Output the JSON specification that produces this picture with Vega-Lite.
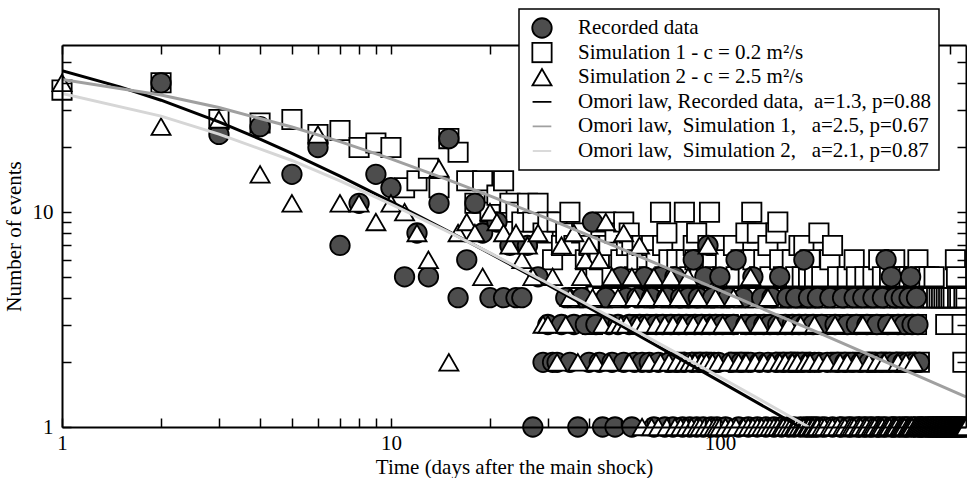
{
"$schema": "https://vega.github.io/schema/vega-lite/v6.json",
"width": 904, "height": 382,
"autosize": {"type": "none"},
"padding": {"left": 62, "top": 45, "right": 1, "bottom": 51},
"background": "white",
"config": {
  "view": {"stroke": null},
  "axis": {"labelFont": "Liberation Serif", "titleFont": "Liberation Serif", "labelFontSize": 21, "titleFontSize": 21, "labelColor": "black", "titleColor": "black", "titleFontWeight": "normal", "domainColor": "black", "domainWidth": 2, "ticks": true, "tickColor": "black", "tickOpacity": 1, "tickWidth": 1.5, "grid": false, "labelFlush": false, "labelOverlap": false, "zindex": 1},
  "legend": {"labelFont": "Liberation Serif", "labelFontSize": 21, "labelColor": "black", "strokeColor": "black", "strokeWidth": 1.5, "fillColor": "white", "padding": 8, "rowPadding": 2.6, "clipHeight": 22, "symbolOffset": 4, "labelOffset": 25, "labelLimit": 0, "cornerRadius": 0, "zindex": 2}
},
"datasets": {
"pts": [
{"s":"S1","t":1,"n":37},{"s":"S1","t":2,"n":40},{"s":"S1","t":3,"n":27},{"s":"S1","t":4,"n":26},{"s":"S1","t":5,"n":27},{"s":"S1","t":6,"n":23},{"s":"S1","t":7,"n":24},{"s":"S1","t":8,"n":20},{"s":"S1","t":9,"n":21},{"s":"S1","t":10,"n":20},
{"s":"S1","t":11,"n":13},{"s":"S1","t":12,"n":14},{"s":"S1","t":13,"n":16},{"s":"S1","t":14,"n":13},{"s":"S1","t":15,"n":22},{"s":"S1","t":16,"n":19},{"s":"S1","t":17,"n":14},{"s":"S1","t":18,"n":11},{"s":"S1","t":19,"n":14},{"s":"S1","t":20,"n":10},
{"s":"S1","t":21,"n":12},{"s":"S1","t":22,"n":14},{"s":"S1","t":23,"n":11},{"s":"S1","t":24,"n":10},{"s":"S1","t":25,"n":9},{"s":"S1","t":26,"n":11},{"s":"S1","t":27,"n":9},{"s":"S1","t":28,"n":11},{"s":"S1","t":29,"n":8},{"s":"S1","t":30,"n":9},
{"s":"S1","t":31,"n":6},{"s":"S1","t":32,"n":9},{"s":"S1","t":33,"n":7},{"s":"S1","t":34,"n":8},{"s":"S1","t":35,"n":10},{"s":"S1","t":36,"n":7},{"s":"S1","t":37,"n":4},{"s":"S1","t":38,"n":8},{"s":"S1","t":39,"n":6},{"s":"S1","t":40,"n":7},
{"s":"S1","t":41,"n":3},{"s":"S1","t":42,"n":5},{"s":"S1","t":43,"n":6},{"s":"S1","t":44,"n":4},{"s":"S1","t":45,"n":9},{"s":"S1","t":46,"n":7},{"s":"S1","t":47,"n":5},{"s":"S1","t":48,"n":8},{"s":"S1","t":49,"n":4},{"s":"S1","t":50,"n":6},
{"s":"S1","t":51,"n":9},{"s":"S1","t":52,"n":7},{"s":"S1","t":53,"n":8},{"s":"S1","t":54,"n":7},{"s":"S1","t":55,"n":5},{"s":"S1","t":56,"n":6},{"s":"S1","t":57,"n":3},{"s":"S1","t":58,"n":7},{"s":"S1","t":59,"n":4},{"s":"S1","t":60,"n":6},
{"s":"S1","t":61,"n":5},{"s":"S1","t":62,"n":7},{"s":"S1","t":63,"n":4},{"s":"S1","t":64,"n":6},{"s":"S1","t":65,"n":3},{"s":"S1","t":66,"n":10},{"s":"S1","t":67,"n":7},{"s":"S1","t":68,"n":5},{"s":"S1","t":69,"n":8},{"s":"S1","t":70,"n":6},
{"s":"S1","t":71,"n":4},{"s":"S1","t":72,"n":5},{"s":"S1","t":73,"n":2},{"s":"S1","t":74,"n":6},{"s":"S1","t":75,"n":4},{"s":"S1","t":76,"n":5},{"s":"S1","t":77,"n":3},{"s":"S1","t":78,"n":10},{"s":"S1","t":79,"n":6},{"s":"S1","t":80,"n":4},
{"s":"S1","t":81,"n":5},{"s":"S1","t":82,"n":3},{"s":"S1","t":83,"n":7},{"s":"S1","t":84,"n":6},{"s":"S1","t":85,"n":8},{"s":"S1","t":86,"n":4},{"s":"S1","t":87,"n":5},{"s":"S1","t":88,"n":2},{"s":"S1","t":89,"n":6},{"s":"S1","t":90,"n":4},
{"s":"S1","t":91,"n":5},{"s":"S1","t":92,"n":7},{"s":"S1","t":93,"n":10},{"s":"S1","t":94,"n":3},{"s":"S1","t":95,"n":6},{"s":"S1","t":96,"n":4},{"s":"S1","t":97,"n":5},{"s":"S1","t":98,"n":7},{"s":"S1","t":99,"n":3},{"s":"S1","t":100,"n":4},
{"s":"S1","t":102,"n":5},{"s":"S1","t":104,"n":6},{"s":"S1","t":106,"n":3},{"s":"S1","t":108,"n":4},{"s":"S1","t":110,"n":7},{"s":"S1","t":112,"n":5},{"s":"S1","t":114,"n":2},{"s":"S1","t":116,"n":6},{"s":"S1","t":118,"n":4},{"s":"S1","t":120,"n":8},
{"s":"S1","t":122,"n":5},{"s":"S1","t":124,"n":3},{"s":"S1","t":125,"n":10},{"s":"S1","t":126,"n":6},{"s":"S1","t":128,"n":4},{"s":"S1","t":130,"n":8},{"s":"S1","t":132,"n":5},{"s":"S1","t":134,"n":3},{"s":"S1","t":136,"n":6},{"s":"S1","t":138,"n":4},
{"s":"S1","t":140,"n":7},{"s":"S1","t":142,"n":5},{"s":"S1","t":144,"n":3},{"s":"S1","t":146,"n":4},{"s":"S1","t":148,"n":8},{"s":"S1","t":150,"n":9},{"s":"S1","t":152,"n":6},{"s":"S1","t":154,"n":4},{"s":"S1","t":156,"n":5},{"s":"S1","t":158,"n":2},
{"s":"S1","t":160,"n":3},{"s":"S1","t":162,"n":5},{"s":"S1","t":164,"n":4},{"s":"S1","t":166,"n":6},{"s":"S1","t":168,"n":3},{"s":"S1","t":170,"n":5},{"s":"S1","t":172,"n":4},{"s":"S1","t":174,"n":7},{"s":"S1","t":176,"n":2},{"s":"S1","t":178,"n":5},
{"s":"S1","t":180,"n":7},{"s":"S1","t":182,"n":4},{"s":"S1","t":184,"n":3},{"s":"S1","t":186,"n":5},{"s":"S1","t":188,"n":6},{"s":"S1","t":190,"n":4},{"s":"S1","t":192,"n":1},{"s":"S1","t":194,"n":5},{"s":"S1","t":196,"n":3},{"s":"S1","t":198,"n":4},
{"s":"S1","t":200,"n":8},{"s":"S1","t":204,"n":5},{"s":"S1","t":208,"n":4},{"s":"S1","t":212,"n":3},{"s":"S1","t":216,"n":6},{"s":"S1","t":220,"n":7},{"s":"S1","t":224,"n":4},{"s":"S1","t":228,"n":5},{"s":"S1","t":232,"n":2},{"s":"S1","t":236,"n":4},
{"s":"S1","t":240,"n":3},{"s":"S1","t":244,"n":5},{"s":"S1","t":248,"n":1},{"s":"S1","t":252,"n":4},{"s":"S1","t":256,"n":6},{"s":"S1","t":260,"n":5},{"s":"S1","t":264,"n":3},{"s":"S1","t":268,"n":4},{"s":"S1","t":272,"n":2},{"s":"S1","t":276,"n":5},
{"s":"S1","t":280,"n":4},{"s":"S1","t":284,"n":1},{"s":"S1","t":288,"n":3},{"s":"S1","t":292,"n":5},{"s":"S1","t":296,"n":4},{"s":"S1","t":300,"n":2},{"s":"S1","t":304,"n":6},{"s":"S1","t":308,"n":4},{"s":"S1","t":312,"n":5},{"s":"S1","t":316,"n":3},
{"s":"S1","t":320,"n":1},{"s":"S1","t":324,"n":4},{"s":"S1","t":328,"n":5},{"s":"S1","t":332,"n":2},{"s":"S1","t":336,"n":4},{"s":"S1","t":340,"n":6},{"s":"S1","t":344,"n":5},{"s":"S1","t":348,"n":3},{"s":"S1","t":352,"n":4},{"s":"S1","t":356,"n":1},
{"s":"S1","t":360,"n":5},{"s":"S1","t":364,"n":4},{"s":"S1","t":368,"n":2},{"s":"S1","t":372,"n":3},{"s":"S1","t":376,"n":5},{"s":"S1","t":380,"n":4},{"s":"S1","t":384,"n":1},{"s":"S1","t":388,"n":5},{"s":"S1","t":392,"n":4},{"s":"S1","t":396,"n":3},
{"s":"S1","t":400,"n":6},{"s":"S1","t":404,"n":2},{"s":"S1","t":408,"n":5},{"s":"S1","t":412,"n":4},{"s":"S1","t":416,"n":1},{"s":"S1","t":420,"n":5},{"s":"S1","t":424,"n":4},{"s":"S1","t":428,"n":1},{"s":"S1","t":432,"n":5},{"s":"S1","t":436,"n":4},
{"s":"S1","t":440,"n":1},{"s":"S1","t":444,"n":4},{"s":"S1","t":448,"n":5},{"s":"S1","t":452,"n":1},{"s":"S1","t":456,"n":4},{"s":"S1","t":460,"n":1},{"s":"S1","t":464,"n":4},{"s":"S1","t":468,"n":1},{"s":"S1","t":472,"n":4},{"s":"S1","t":476,"n":1},
{"s":"S1","t":480,"n":4},{"s":"S1","t":484,"n":1},{"s":"S1","t":486,"n":3},{"s":"S1","t":488,"n":4},{"s":"S1","t":492,"n":1},{"s":"S1","t":496,"n":4},{"s":"S1","t":500,"n":1},{"s":"S1","t":504,"n":4},{"s":"S1","t":508,"n":1},{"s":"S1","t":512,"n":4},
{"s":"S1","t":516,"n":1},{"s":"S1","t":520,"n":6},{"s":"S1","t":524,"n":5},{"s":"S1","t":528,"n":4},{"s":"S1","t":532,"n":1},{"s":"S1","t":536,"n":4},{"s":"S1","t":540,"n":1},{"s":"S1","t":545,"n":3},{"s":"S1","t":548,"n":2},{"s":"S1","t":552,"n":4},
{"s":"S1","t":556,"n":1},{"s":"S1","t":560,"n":4},
{"s":"R","t":2,"n":40},{"s":"R","t":3,"n":23},{"s":"R","t":4,"n":25},{"s":"R","t":5,"n":15},{"s":"R","t":6,"n":20},{"s":"R","t":7,"n":7},{"s":"R","t":8,"n":11},{"s":"R","t":9,"n":15},{"s":"R","t":10,"n":13},
{"s":"R","t":11,"n":5},{"s":"R","t":12,"n":8},{"s":"R","t":13,"n":5},{"s":"R","t":14,"n":11},{"s":"R","t":15,"n":22},{"s":"R","t":16,"n":4},{"s":"R","t":17,"n":6},{"s":"R","t":18,"n":11},{"s":"R","t":19,"n":8},{"s":"R","t":20,"n":4},
{"s":"R","t":21,"n":9},{"s":"R","t":22,"n":4},{"s":"R","t":23,"n":7},{"s":"R","t":24,"n":4},{"s":"R","t":25,"n":4},{"s":"R","t":26,"n":7},{"s":"R","t":27,"n":1},{"s":"R","t":28,"n":5},{"s":"R","t":29,"n":2},{"s":"R","t":30,"n":3},
{"s":"R","t":31,"n":2},{"s":"R","t":32,"n":2},{"s":"R","t":33,"n":3},{"s":"R","t":34,"n":4},{"s":"R","t":35,"n":2},{"s":"R","t":36,"n":3},{"s":"R","t":37,"n":1},{"s":"R","t":38,"n":4},{"s":"R","t":39,"n":3},{"s":"R","t":40,"n":2},
{"s":"R","t":41,"n":9},{"s":"R","t":42,"n":3},{"s":"R","t":43,"n":2},{"s":"R","t":44,"n":1},{"s":"R","t":45,"n":4},{"s":"R","t":46,"n":3},{"s":"R","t":47,"n":2},{"s":"R","t":48,"n":1},{"s":"R","t":49,"n":3},{"s":"R","t":50,"n":5},
{"s":"R","t":51,"n":2},{"s":"R","t":52,"n":4},{"s":"R","t":53,"n":3},{"s":"R","t":54,"n":1},{"s":"R","t":55,"n":2},{"s":"R","t":56,"n":4},{"s":"R","t":57,"n":3},{"s":"R","t":58,"n":2},{"s":"R","t":59,"n":5},{"s":"R","t":60,"n":3},
{"s":"R","t":61,"n":2},{"s":"R","t":62,"n":4},{"s":"R","t":63,"n":1},{"s":"R","t":64,"n":3},{"s":"R","t":65,"n":2},{"s":"R","t":66,"n":5},{"s":"R","t":67,"n":3},{"s":"R","t":68,"n":1},{"s":"R","t":69,"n":4},{"s":"R","t":70,"n":2},
{"s":"R","t":71,"n":3},{"s":"R","t":72,"n":1},{"s":"R","t":73,"n":5},{"s":"R","t":74,"n":2},{"s":"R","t":75,"n":3},{"s":"R","t":76,"n":4},{"s":"R","t":77,"n":1},{"s":"R","t":78,"n":2},{"s":"R","t":79,"n":3},{"s":"R","t":80,"n":4},
{"s":"R","t":81,"n":1},{"s":"R","t":82,"n":2},{"s":"R","t":83,"n":6},{"s":"R","t":84,"n":3},{"s":"R","t":85,"n":1},{"s":"R","t":86,"n":4},{"s":"R","t":87,"n":2},{"s":"R","t":88,"n":3},{"s":"R","t":89,"n":1},{"s":"R","t":90,"n":5},
{"s":"R","t":91,"n":2},{"s":"R","t":92,"n":7},{"s":"R","t":93,"n":3},{"s":"R","t":94,"n":1},{"s":"R","t":95,"n":4},{"s":"R","t":96,"n":2},{"s":"R","t":97,"n":3},{"s":"R","t":98,"n":1},{"s":"R","t":99,"n":2},{"s":"R","t":100,"n":5},
{"s":"R","t":102,"n":3},{"s":"R","t":104,"n":1},{"s":"R","t":106,"n":4},{"s":"R","t":108,"n":2},{"s":"R","t":110,"n":3},{"s":"R","t":112,"n":6},{"s":"R","t":114,"n":1},{"s":"R","t":116,"n":2},{"s":"R","t":118,"n":4},{"s":"R","t":120,"n":3},
{"s":"R","t":122,"n":1},{"s":"R","t":124,"n":2},{"s":"R","t":126,"n":5},{"s":"R","t":128,"n":3},{"s":"R","t":130,"n":1},{"s":"R","t":132,"n":2},{"s":"R","t":134,"n":4},{"s":"R","t":136,"n":3},{"s":"R","t":138,"n":1},{"s":"R","t":140,"n":2},
{"s":"R","t":142,"n":3},{"s":"R","t":144,"n":4},{"s":"R","t":146,"n":1},{"s":"R","t":148,"n":2},{"s":"R","t":150,"n":3},{"s":"R","t":152,"n":5},{"s":"R","t":154,"n":1},{"s":"R","t":156,"n":2},{"s":"R","t":158,"n":3},{"s":"R","t":160,"n":4},
{"s":"R","t":162,"n":1},{"s":"R","t":164,"n":2},{"s":"R","t":166,"n":3},{"s":"R","t":168,"n":1},{"s":"R","t":170,"n":4},{"s":"R","t":172,"n":2},{"s":"R","t":174,"n":3},{"s":"R","t":176,"n":1},{"s":"R","t":178,"n":2},{"s":"R","t":180,"n":6},
{"s":"R","t":182,"n":3},{"s":"R","t":184,"n":1},{"s":"R","t":186,"n":4},{"s":"R","t":188,"n":2},{"s":"R","t":190,"n":1},{"s":"R","t":192,"n":3},{"s":"R","t":194,"n":2},{"s":"R","t":196,"n":1},{"s":"R","t":198,"n":4},{"s":"R","t":200,"n":2},
{"s":"R","t":204,"n":3},{"s":"R","t":208,"n":1},{"s":"R","t":212,"n":2},{"s":"R","t":216,"n":4},{"s":"R","t":220,"n":1},{"s":"R","t":224,"n":3},{"s":"R","t":228,"n":2},{"s":"R","t":232,"n":1},{"s":"R","t":236,"n":4},{"s":"R","t":240,"n":2},
{"s":"R","t":244,"n":3},{"s":"R","t":248,"n":1},{"s":"R","t":252,"n":2},{"s":"R","t":256,"n":4},{"s":"R","t":260,"n":3},{"s":"R","t":264,"n":1},{"s":"R","t":268,"n":2},{"s":"R","t":272,"n":4},{"s":"R","t":276,"n":1},{"s":"R","t":280,"n":3},
{"s":"R","t":284,"n":2},{"s":"R","t":288,"n":1},{"s":"R","t":292,"n":4},{"s":"R","t":296,"n":2},{"s":"R","t":300,"n":3},{"s":"R","t":304,"n":1},{"s":"R","t":308,"n":2},{"s":"R","t":312,"n":4},{"s":"R","t":316,"n":1},{"s":"R","t":320,"n":6},
{"s":"R","t":324,"n":3},{"s":"R","t":328,"n":2},{"s":"R","t":332,"n":5},{"s":"R","t":336,"n":1},{"s":"R","t":340,"n":4},{"s":"R","t":344,"n":2},{"s":"R","t":348,"n":3},{"s":"R","t":352,"n":1},{"s":"R","t":356,"n":4},{"s":"R","t":360,"n":2},
{"s":"R","t":364,"n":3},{"s":"R","t":368,"n":1},{"s":"R","t":372,"n":2},{"s":"R","t":376,"n":4},{"s":"R","t":380,"n":5},{"s":"R","t":384,"n":3},{"s":"R","t":388,"n":1},{"s":"R","t":392,"n":2},{"s":"R","t":396,"n":4},{"s":"R","t":400,"n":3},
{"s":"R","t":404,"n":2},{"s":"R","t":408,"n":1},
{"s":"S2","t":1,"n":40},{"s":"S2","t":2,"n":25},{"s":"S2","t":3,"n":27},{"s":"S2","t":4,"n":15},{"s":"S2","t":5,"n":11},{"s":"S2","t":6,"n":23},{"s":"S2","t":7,"n":11},{"s":"S2","t":8,"n":11},{"s":"S2","t":9,"n":9},{"s":"S2","t":10,"n":11},
{"s":"S2","t":11,"n":10},{"s":"S2","t":12,"n":8},{"s":"S2","t":13,"n":6},{"s":"S2","t":14,"n":16},{"s":"S2","t":15,"n":2},{"s":"S2","t":16,"n":8},{"s":"S2","t":17,"n":9},{"s":"S2","t":18,"n":8},{"s":"S2","t":19,"n":5},{"s":"S2","t":20,"n":10},
{"s":"S2","t":21,"n":9},{"s":"S2","t":22,"n":8},{"s":"S2","t":23,"n":7},{"s":"S2","t":24,"n":8},{"s":"S2","t":25,"n":6},{"s":"S2","t":26,"n":7},{"s":"S2","t":27,"n":5},{"s":"S2","t":28,"n":8},{"s":"S2","t":29,"n":3},{"s":"S2","t":30,"n":3},
{"s":"S2","t":31,"n":5},{"s":"S2","t":32,"n":2},{"s":"S2","t":33,"n":7},{"s":"S2","t":34,"n":3},{"s":"S2","t":35,"n":4},{"s":"S2","t":36,"n":8},{"s":"S2","t":37,"n":2},{"s":"S2","t":38,"n":5},{"s":"S2","t":39,"n":6},{"s":"S2","t":40,"n":7},
{"s":"S2","t":41,"n":4},{"s":"S2","t":42,"n":2},{"s":"S2","t":43,"n":6},{"s":"S2","t":44,"n":3},{"s":"S2","t":45,"n":9},{"s":"S2","t":46,"n":2},{"s":"S2","t":47,"n":5},{"s":"S2","t":48,"n":3},{"s":"S2","t":49,"n":4},{"s":"S2","t":50,"n":3},
{"s":"S2","t":51,"n":8},{"s":"S2","t":52,"n":3},{"s":"S2","t":53,"n":2},{"s":"S2","t":54,"n":5},{"s":"S2","t":55,"n":4},{"s":"S2","t":56,"n":3},{"s":"S2","t":57,"n":7},{"s":"S2","t":58,"n":1},{"s":"S2","t":59,"n":3},{"s":"S2","t":60,"n":4},
{"s":"S2","t":61,"n":2},{"s":"S2","t":62,"n":1},{"s":"S2","t":63,"n":5},{"s":"S2","t":64,"n":3},{"s":"S2","t":65,"n":1},{"s":"S2","t":66,"n":2},{"s":"S2","t":67,"n":4},{"s":"S2","t":68,"n":3},{"s":"S2","t":69,"n":1},{"s":"S2","t":70,"n":2},
{"s":"S2","t":71,"n":5},{"s":"S2","t":72,"n":3},{"s":"S2","t":73,"n":1},{"s":"S2","t":74,"n":2},{"s":"S2","t":75,"n":4},{"s":"S2","t":76,"n":1},{"s":"S2","t":77,"n":3},{"s":"S2","t":78,"n":2},{"s":"S2","t":79,"n":1},{"s":"S2","t":80,"n":5},
{"s":"S2","t":81,"n":2},{"s":"S2","t":82,"n":1},{"s":"S2","t":83,"n":3},{"s":"S2","t":84,"n":2},{"s":"S2","t":85,"n":1},{"s":"S2","t":86,"n":4},{"s":"S2","t":87,"n":1},{"s":"S2","t":88,"n":2},{"s":"S2","t":89,"n":3},{"s":"S2","t":90,"n":1},
{"s":"S2","t":91,"n":2},{"s":"S2","t":92,"n":7},{"s":"S2","t":93,"n":1},{"s":"S2","t":94,"n":3},{"s":"S2","t":95,"n":2},{"s":"S2","t":96,"n":1},{"s":"S2","t":97,"n":4},{"s":"S2","t":98,"n":1},{"s":"S2","t":99,"n":2},{"s":"S2","t":100,"n":1},
{"s":"S2","t":102,"n":3},{"s":"S2","t":104,"n":1},{"s":"S2","t":106,"n":2},{"s":"S2","t":108,"n":1},{"s":"S2","t":110,"n":4},{"s":"S2","t":112,"n":1},{"s":"S2","t":114,"n":2},{"s":"S2","t":116,"n":3},{"s":"S2","t":118,"n":1},{"s":"S2","t":120,"n":2},
{"s":"S2","t":122,"n":1},{"s":"S2","t":124,"n":5},{"s":"S2","t":126,"n":1},{"s":"S2","t":128,"n":2},{"s":"S2","t":130,"n":1},{"s":"S2","t":132,"n":3},{"s":"S2","t":134,"n":1},{"s":"S2","t":136,"n":2},{"s":"S2","t":138,"n":1},{"s":"S2","t":140,"n":4},
{"s":"S2","t":142,"n":1},{"s":"S2","t":144,"n":2},{"s":"S2","t":146,"n":1},{"s":"S2","t":148,"n":3},{"s":"S2","t":150,"n":1},{"s":"S2","t":152,"n":2},{"s":"S2","t":154,"n":1},{"s":"S2","t":156,"n":1},{"s":"S2","t":158,"n":2},{"s":"S2","t":160,"n":1},
{"s":"S2","t":162,"n":3},{"s":"S2","t":164,"n":1},{"s":"S2","t":166,"n":2},{"s":"S2","t":168,"n":1},{"s":"S2","t":170,"n":1},{"s":"S2","t":172,"n":2},{"s":"S2","t":174,"n":1},{"s":"S2","t":176,"n":3},{"s":"S2","t":178,"n":1},{"s":"S2","t":180,"n":1},
{"s":"S2","t":182,"n":2},{"s":"S2","t":184,"n":1},{"s":"S2","t":186,"n":1},{"s":"S2","t":188,"n":2},{"s":"S2","t":190,"n":1},{"s":"S2","t":192,"n":1},{"s":"S2","t":194,"n":3},{"s":"S2","t":196,"n":1},{"s":"S2","t":198,"n":1},{"s":"S2","t":200,"n":2},
{"s":"S2","t":204,"n":1},{"s":"S2","t":208,"n":1},{"s":"S2","t":212,"n":2},{"s":"S2","t":216,"n":1},{"s":"S2","t":220,"n":1},{"s":"S2","t":224,"n":3},{"s":"S2","t":228,"n":1},{"s":"S2","t":232,"n":2},{"s":"S2","t":236,"n":1},{"s":"S2","t":240,"n":1},
{"s":"S2","t":244,"n":2},{"s":"S2","t":248,"n":1},{"s":"S2","t":252,"n":1},{"s":"S2","t":256,"n":1},{"s":"S2","t":260,"n":2},{"s":"S2","t":264,"n":1},{"s":"S2","t":268,"n":1},{"s":"S2","t":272,"n":3},{"s":"S2","t":276,"n":1},{"s":"S2","t":280,"n":1},
{"s":"S2","t":284,"n":2},{"s":"S2","t":288,"n":1},{"s":"S2","t":292,"n":1},{"s":"S2","t":296,"n":1},{"s":"S2","t":300,"n":2},{"s":"S2","t":304,"n":1},{"s":"S2","t":308,"n":1},{"s":"S2","t":312,"n":1},{"s":"S2","t":316,"n":2},{"s":"S2","t":320,"n":1},
{"s":"S2","t":324,"n":1},{"s":"S2","t":328,"n":1},{"s":"S2","t":332,"n":3},{"s":"S2","t":336,"n":1},{"s":"S2","t":340,"n":1},{"s":"S2","t":344,"n":1},{"s":"S2","t":348,"n":2},{"s":"S2","t":352,"n":1},{"s":"S2","t":356,"n":1},{"s":"S2","t":360,"n":1},
{"s":"S2","t":364,"n":1},{"s":"S2","t":368,"n":2},{"s":"S2","t":372,"n":1},{"s":"S2","t":376,"n":1},{"s":"S2","t":380,"n":1},{"s":"S2","t":384,"n":1},{"s":"S2","t":388,"n":2},{"s":"S2","t":392,"n":1},{"s":"S2","t":396,"n":1},{"s":"S2","t":400,"n":1},
{"s":"S2","t":404,"n":1},{"s":"S2","t":408,"n":1},{"s":"S2","t":412,"n":1},{"s":"S2","t":416,"n":1},{"s":"S2","t":420,"n":1},{"s":"S2","t":424,"n":1},{"s":"S2","t":428,"n":1},{"s":"S2","t":432,"n":1},{"s":"S2","t":436,"n":1},{"s":"S2","t":440,"n":1},
{"s":"S2","t":444,"n":1},{"s":"S2","t":448,"n":1},{"s":"S2","t":452,"n":1},{"s":"S2","t":456,"n":1},{"s":"S2","t":460,"n":1},{"s":"S2","t":464,"n":1},{"s":"S2","t":468,"n":1},{"s":"S2","t":472,"n":1},{"s":"S2","t":476,"n":1},{"s":"S2","t":480,"n":1},
{"s":"S2","t":484,"n":1},{"s":"S2","t":488,"n":1},{"s":"S2","t":492,"n":1},{"s":"S2","t":496,"n":1},{"s":"S2","t":500,"n":1},{"s":"S2","t":504,"n":1},{"s":"S2","t":508,"n":1},{"s":"S2","t":512,"n":1},{"s":"S2","t":516,"n":1},{"s":"S2","t":520,"n":1},
{"s":"S2","t":524,"n":1},{"s":"S2","t":528,"n":1},{"s":"S2","t":532,"n":1},{"s":"S2","t":536,"n":1},{"s":"S2","t":540,"n":1},{"s":"S2","t":544,"n":1},{"s":"S2","t":548,"n":1},{"s":"S2","t":552,"n":1},{"s":"S2","t":556,"n":1},{"s":"S2","t":560,"n":1}
],
"omori": [
{"s":"L0","t":1,"n":45.6},{"s":"L0","t":1.5,"n":38.3},{"s":"L0","t":2,"n":33.2},{"s":"L0","t":3,"n":26.3},{"s":"L0","t":4,"n":21.9},{"s":"L0","t":5,"n":18.8},{"s":"L0","t":7,"n":14.7},{"s":"L0","t":10,"n":11.2},{"s":"L0","t":15,"n":8.13},{"s":"L0","t":20,"n":6.43},{"s":"L0","t":30,"n":4.58},{"s":"L0","t":50,"n":2.97},{"s":"L0","t":70,"n":2.22},{"s":"L0","t":100,"n":1.63},{"s":"L0","t":140,"n":1.216},{"s":"L0","t":175,"n":1.0},
{"s":"L1","t":1,"n":41.5},{"s":"L1","t":2,"n":35.1},{"s":"L1","t":3,"n":30.7},{"s":"L1","t":5,"n":24.9},{"s":"L1","t":7,"n":21.3},{"s":"L1","t":10,"n":17.7},{"s":"L1","t":15,"n":14.1},{"s":"L1","t":20,"n":11.9},{"s":"L1","t":30,"n":9.33},{"s":"L1","t":50,"n":6.77},{"s":"L1","t":70,"n":5.45},{"s":"L1","t":100,"n":4.32},{"s":"L1","t":150,"n":3.31},{"s":"L1","t":200,"n":2.74},{"s":"L1","t":300,"n":2.09},{"s":"L1","t":400,"n":1.73},{"s":"L1","t":560,"n":1.38},
{"s":"L2","t":1,"n":35.7},{"s":"L2","t":2,"n":28.0},{"s":"L2","t":3,"n":23.1},{"s":"L2","t":5,"n":17.4},{"s":"L2","t":7,"n":14.0},{"s":"L2","t":10,"n":10.9},{"s":"L2","t":15,"n":8.08},{"s":"L2","t":20,"n":6.46},{"s":"L2","t":30,"n":4.67},{"s":"L2","t":50,"n":3.06},{"s":"L2","t":70,"n":2.31},{"s":"L2","t":100,"n":1.71},{"s":"L2","t":140,"n":1.28},{"s":"L2","t":186,"n":1.0}
]
},
"layer": [
{
 "data": {"name": "pts"},
 "mark": {"type": "point", "filled": true, "opacity": 1, "clip": false},
 "encoding": {
  "x": {"field": "t", "type": "quantitative", "scale": {"type": "log", "domain": [1, 560], "nice": false},
   "axis": {"orient": "bottom", "values": [1, 2, 3, 4, 5, 6, 7, 8, 9, 10, 20, 30, 40, 50, 60, 70, 80, 90, 100, 200, 300, 400, 500], "format": "d", "labelExpr": "datum.value == 1 || datum.value == 10 || datum.value == 100 ? datum.label : ''", "ticks": true, "tickSize": -9, "labelPadding": 14, "title": "Time (days after the main shock)", "titlePadding": 3, "zindex": 1}},
  "y": {"field": "n", "type": "quantitative", "scale": {"type": "log", "domain": [1, 60], "nice": false},
   "axis": {"orient": "left", "values": [1, 2, 3, 4, 5, 6, 7, 8, 9, 10, 20, 30, 40, 50], "format": "d", "labelExpr": "datum.value == 1 || datum.value == 10 ? datum.label : ''", "ticks": true, "tickSize": -9, "labelPadding": 18, "title": "Number of events", "titlePadding": 8, "zindex": 1}},
  "shape": {"field": "s", "type": "nominal", "scale": {"domain": ["R", "S1", "S2", "L0", "L1", "L2"], "range": ["circle", "square", "triangle-up", "stroke", "stroke", "stroke"]},
   "legend": {"title": null, "orient": "none", "legendX": 457, "legendY": -36, "labelExpr": "datum.value == 'R' ? 'Recorded data' : datum.value == 'S1' ? 'Simulation 1 - c = 0.2 m²/s' : datum.value == 'S2' ? 'Simulation 2 - c = 2.5 m²/s' : datum.value == 'L0' ? 'Omori law, Recorded data,\u00a0 a=1.3, p=0.88' : datum.value == 'L1' ? 'Omori law,\u00a0 Simulation 1,\u00a0\u00a0 a=2.5, p=0.67' : 'Omori law,\u00a0 Simulation 2,\u00a0\u00a0 a=2.1, p=0.87'"}},
  "fill": {"field": "s", "type": "nominal", "scale": {"domain": ["R", "S1", "S2", "L0", "L1", "L2"], "range": ["#4d4d4d", "white", "white", "white", "white", "white"]},
   "legend": {"title": null, "orient": "none", "legendX": 457, "legendY": -36, "labelExpr": "datum.value == 'R' ? 'Recorded data' : datum.value == 'S1' ? 'Simulation 1 - c = 0.2 m²/s' : datum.value == 'S2' ? 'Simulation 2 - c = 2.5 m²/s' : datum.value == 'L0' ? 'Omori law, Recorded data,\u00a0 a=1.3, p=0.88' : datum.value == 'L1' ? 'Omori law,\u00a0 Simulation 1,\u00a0\u00a0 a=2.5, p=0.67' : 'Omori law,\u00a0 Simulation 2,\u00a0\u00a0 a=2.1, p=0.87'"}},
  "stroke": {"field": "s", "type": "nominal", "scale": {"domain": ["R", "S1", "S2", "L0", "L1", "L2"], "range": ["black", "black", "black", "black", "#a0a0a0", "#d6d6d6"]},
   "legend": {"title": null, "orient": "none", "legendX": 457, "legendY": -36, "labelExpr": "datum.value == 'R' ? 'Recorded data' : datum.value == 'S1' ? 'Simulation 1 - c = 0.2 m²/s' : datum.value == 'S2' ? 'Simulation 2 - c = 2.5 m²/s' : datum.value == 'L0' ? 'Omori law, Recorded data,\u00a0 a=1.3, p=0.88' : datum.value == 'L1' ? 'Omori law,\u00a0 Simulation 1,\u00a0\u00a0 a=2.5, p=0.67' : 'Omori law,\u00a0 Simulation 2,\u00a0\u00a0 a=2.1, p=0.87'"}},
  "size": {"field": "s", "type": "nominal", "scale": {"domain": ["R", "S1", "S2", "L0", "L1", "L2"], "range": [380, 340, 380, 900, 900, 900]},
   "legend": {"title": null, "orient": "none", "legendX": 457, "legendY": -36, "labelExpr": "datum.value == 'R' ? 'Recorded data' : datum.value == 'S1' ? 'Simulation 1 - c = 0.2 m²/s' : datum.value == 'S2' ? 'Simulation 2 - c = 2.5 m²/s' : datum.value == 'L0' ? 'Omori law, Recorded data,\u00a0 a=1.3, p=0.88' : datum.value == 'L1' ? 'Omori law,\u00a0 Simulation 1,\u00a0\u00a0 a=2.5, p=0.67' : 'Omori law,\u00a0 Simulation 2,\u00a0\u00a0 a=2.1, p=0.87'"}},
  "strokeWidth": {"field": "s", "type": "nominal", "scale": {"domain": ["R", "S1", "S2", "L0", "L1", "L2"], "range": [1.8, 1.8, 1.8, 3, 3, 3]},
   "legend": {"title": null, "orient": "none", "legendX": 457, "legendY": -36, "labelExpr": "datum.value == 'R' ? 'Recorded data' : datum.value == 'S1' ? 'Simulation 1 - c = 0.2 m²/s' : datum.value == 'S2' ? 'Simulation 2 - c = 2.5 m²/s' : datum.value == 'L0' ? 'Omori law, Recorded data,\u00a0 a=1.3, p=0.88' : datum.value == 'L1' ? 'Omori law,\u00a0 Simulation 1,\u00a0\u00a0 a=2.5, p=0.67' : 'Omori law,\u00a0 Simulation 2,\u00a0\u00a0 a=2.1, p=0.87'"}}
 }
},
{
 "data": {"name": "omori"},
 "mark": {"type": "line", "strokeWidth": 3, "clip": true},
 "encoding": {
  "x": {"field": "t", "type": "quantitative", "scale": {"type": "log", "domain": [1, 560], "nice": false},
   "axis": {"orient": "top", "values": [1, 2, 3, 4, 5, 6, 7, 8, 9, 10, 20, 30, 40, 50, 60, 70, 80, 90, 100, 200, 300, 400, 500], "labels": false, "ticks": true, "tickSize": -9, "title": null, "zindex": 1}},
  "y": {"field": "n", "type": "quantitative", "scale": {"type": "log", "domain": [1, 60], "nice": false},
   "axis": {"orient": "right", "values": [1, 2, 3, 4, 5, 6, 7, 8, 9, 10, 20, 30, 40, 50], "labels": false, "ticks": true, "tickSize": -9, "title": null, "zindex": 1}},
  "stroke": {"field": "s", "type": "nominal", "legend": null}
 }
}
],
"resolve": {"axis": {"x": "independent", "y": "independent"}}
}
